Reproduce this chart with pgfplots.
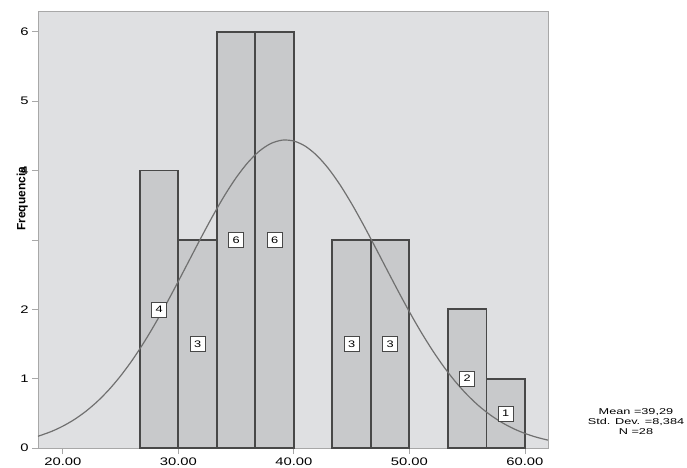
\documentclass[border=0pt]{standalone}
\usepackage{fontspec}
\setmainfont{Liberation Sans}[FakeStretch=1.35]
\newfontfamily\plainsans{Liberation Sans}
\newfontfamily\statfont{Liberation Sans}[FakeStretch=1.5]
\usepackage{pgfplots}
\pgfplotsset{compat=1.18}
\definecolor{bgc}{HTML}{DFE0E2}
\definecolor{barc}{HTML}{C8C9CB}
\definecolor{edgec}{HTML}{484848}
\definecolor{curvec}{HTML}{707070}
\definecolor{axc}{HTML}{A8A8A8}
\begin{document}
\begin{tikzpicture}
\path[use as bounding box] (-38bp,-20bp) rectangle (649bp,448bp);
\begin{axis}[
  scale only axis, width=510bp, height=437bp,
  xmin=17.85, xmax=62.0, ymin=0, ymax=6.3,
  axis background/.style={fill=bgc},
  axis line style={axc, line width=0.8bp},
  xtick={20,30,40,50,60},
  xticklabels={20.00,30.00,40.00,50.00,60.00},
  ytick={0,1,2,3,4,5,6},
  yticklabels={0,1,2,,4,5,6},
  tick align=outside, xtick pos=bottom, ytick pos=left,
  major tick length=6bp,
  tick style={axc, line width=0.8bp},
  ticklabel style={font=\fontsize{11}{13}\selectfont},
  /pgf/number format/assume math mode=true,
  ylabel={Frequencia},
  ylabel style={at={(axis description cs:-0.031,0.57)}, anchor=center, font=\plainsans\bfseries\fontsize{12}{14}\selectfont},
  clip=false,
]
% bar fills
\addplot[ybar interval, fill=barc, draw=none] coordinates {(26.667,4) (30,3) (33.333,6) (36.667,6) (40,0)};
\addplot[ybar interval, fill=barc, draw=none] coordinates {(43.333,3) (46.667,3) (50,0)};
\addplot[ybar interval, fill=barc, draw=none] coordinates {(53.333,2) (56.667,1) (60,0)};
% bar outlines
\addplot[ybar interval, fill=none, draw=edgec, line width=1.8bp] coordinates {(26.667,4) (30,3) (33.333,6) (36.667,6) (40,0)};
\addplot[ybar interval, fill=none, draw=edgec, line width=1.8bp] coordinates {(43.333,3) (46.667,3) (50,0)};
\addplot[ybar interval, fill=none, draw=edgec, line width=1.8bp] coordinates {(53.333,2) (56.667,1) (60,0)};
% normal curve
\addplot[curvec, line width=1.2bp, smooth, mark=none] coordinates {
(17.85,0.169) (19,0.2375) (20,0.315) (21,0.4112) (22,0.530) (23,0.6726) (24,0.842) (25,1.0391) (26,1.264) (27,1.5167) (28,1.794) (29,2.0913) (30,2.404) (31,2.7240) (32,3.043) (33,3.3518) (34,3.640) (35,3.8962) (36,4.112) (37,4.2786) (38,4.389) (39,4.4385) (40,4.425) (41,4.3498) (42,4.215) (43,4.0270) (44,3.793) (45,3.5221) (46,3.224) (47,2.9096) (48,2.589) (49,2.2710) (50,1.964) (51,1.6746) (52,1.408) (53,1.1664) (54,0.953) (55,0.7675) (56,0.609) (57,0.4771) (58,0.368) (59,0.2801) (60,0.210) (61,0.1554) (62,0.113)};
% count labels
\addplot[draw=none, mark=none, nodes near coords, point meta=explicit symbolic,
  every node near coord/.append style={anchor=center, fill=white, draw=edgec, line width=0.5bp, minimum width=15bp, minimum height=15bp, inner sep=0pt, font=\fontsize{9.5}{10}\selectfont}]
  coordinates {(28.333,2)[4] (31.667,1.5)[3] (35,3)[6] (38.333,3)[6] (45,1.5)[3] (48.333,1.5)[3] (55,1)[2] (58.333,0.5)[1]};
\node[align=center, font=\statfont\fontsize{8.5}{10}\selectfont, anchor=center] at (rel axis cs:1.1725,0.06) {Mean =39,29\\Std. Dev. =8,384\\N =28};
\end{axis}
\end{tikzpicture}
\end{document}
